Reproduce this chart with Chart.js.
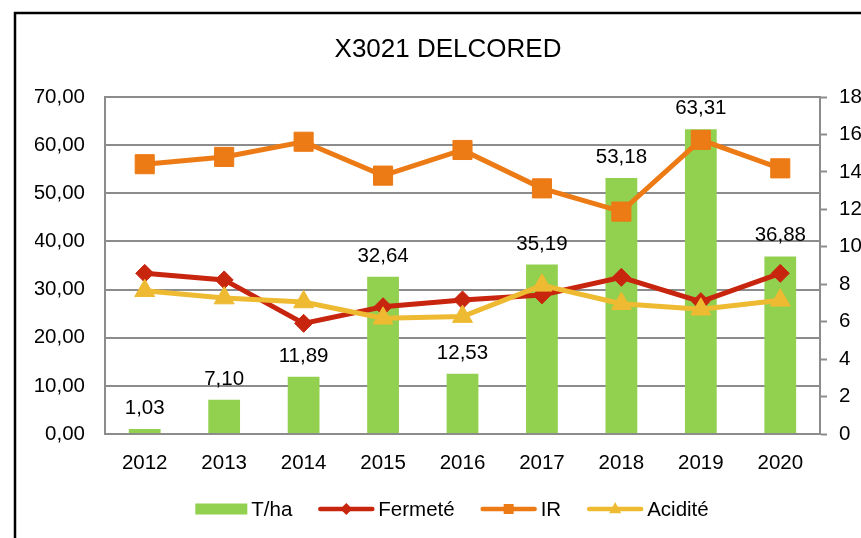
<!DOCTYPE html>
<html lang="fr">
<head>
<meta charset="UTF-8">
<title>X3021 DELCORED</title>
<script src="https://cdn.jsdelivr.net/npm/chart.js@4.4.1/dist/chart.umd.min.js"></script>
<style>
  html, body { margin: 0; padding: 0; background: #fff; }
  #wrap { position: relative; width: 861px; height: 538px; overflow: hidden; }
</style>
</head>
<body>
<div id="wrap"><canvas id="chart"></canvas></div>
<script>
//-----------------------------------------------------
// DONNÉES
//-----------------------------------------------------
const annees = ["2012", "2013", "2014", "2015", "2016", "2017", "2018", "2019", "2020"];
const tonnesHa = [1.03, 7.10, 11.89, 32.64, 12.53, 35.19, 53.18, 63.31, 36.88];
const fermete = [8.58, 8.23, 5.91, 6.80, 7.16, 7.43, 8.37, 7.07, 8.58];
const ir = [14.41, 14.80, 15.61, 13.80, 15.17, 13.12, 11.88, 15.71, 14.19];
const acidite = [7.65, 7.26, 7.05, 6.18, 6.27, 7.94, 6.96, 6.66, 7.14];

const ticksGauche = [0, 10, 20, 30, 40, 50, 60, 70];
const ticksDroite = [0, 2, 4, 6, 8, 10, 12, 14, 16, 18];

//-----------------------------------------------------
// STYLES
//-----------------------------------------------------
const VERT = "#92d050";
const ROUGE = "#c8250f";
const ORANGE = "#ec7a15";
const JAUNE = "#eeba31";
const GRIS = "#8c8c8c";
const POLICE = "'Liberation Sans', Arial, sans-serif";
const TAILLE = 20.5;

Chart.defaults.font.family = POLICE;
Chart.defaults.font.size = TAILLE;
Chart.defaults.color = "#000";

const virgule = (v, d) => Number(v).toFixed(d).replace(".", ",");

//-----------------------------------------------------
// cadre + fond
//-----------------------------------------------------
const cadrePlugin = {
  id: "cadre",
  beforeDraw(chart) {
    const ctx = chart.ctx;
    ctx.save();
    ctx.fillStyle = "#fff";
    ctx.fillRect(0, 0, chart.width, chart.height);
    ctx.strokeStyle = "#000";
    ctx.lineWidth = 2.5;
    ctx.strokeRect(15, 13, 900, 600);
    ctx.restore();
  }
};

//-----------------------------------------------------
// étiquettes des barres
//-----------------------------------------------------
const etiquettesPlugin = {
  id: "etiquettes",
  afterDatasetsDraw(chart) {
    const ctx = chart.ctx;
    const meta = chart.getDatasetMeta(0);
    ctx.save();
    ctx.font = `${TAILLE}px ${POLICE}`;
    ctx.fillStyle = "#000";
    ctx.textAlign = "center";
    ctx.textBaseline = "alphabetic";
    meta.data.forEach((bar, i) => {
      ctx.fillText(virgule(tonnesHa[i], 2), bar.x, bar.y - 15);
    });
    ctx.restore();
  }
};

//-----------------------------------------------------
// légende (ligne + marqueur comme Excel)
//-----------------------------------------------------
function marqueur(ctx, type, x, y, r) {
  ctx.beginPath();
  if (type === "rectRot") {
    ctx.moveTo(x - r, y); ctx.lineTo(x, y - r); ctx.lineTo(x + r, y); ctx.lineTo(x, y + r);
  } else if (type === "rect") {
    ctx.rect(x - r, y - r, 2 * r, 2 * r);
  } else {
    ctx.moveTo(x, y - r); ctx.lineTo(x + r * 0.87, y + r * 0.6); ctx.lineTo(x - r * 0.87, y + r * 0.6);
  }
  ctx.closePath();
  ctx.fill();
}

const legendeItems = [
  { label: "T/ha", type: "bar", color: VERT },
  { label: "Fermeté", type: "rectRot", color: ROUGE, r: 6 },
  { label: "IR", type: "rect", color: ORANGE, r: 5 },
  { label: "Acidité", type: "triangle", color: JAUNE, r: 7 },
];

const legendePlugin = {
  id: "legende",
  afterDraw(chart) {
    const ctx = chart.ctx;
    const y = 509;
    ctx.save();
    ctx.font = `${TAILLE}px ${POLICE}`;
    const items = legendeItems.map((it) => ({
      ...it,
      w: it.type === "bar" ? 52 : 56,
      tw: ctx.measureText(it.label).width
    }));
    const gap = 4, espace = 26;
    const total = items.reduce((s, it) => s + it.w + gap + it.tw, 0) + espace * (items.length - 1);
    let x = 452 - total / 2;
    items.forEach((it) => {
      ctx.fillStyle = it.color;
      ctx.strokeStyle = it.color;
      if (it.type === "bar") {
        ctx.fillRect(x, y - 5.5, it.w, 11);
      } else {
        ctx.lineWidth = 4.5;
        ctx.lineCap = "round";
        ctx.beginPath();
        ctx.moveTo(x + 2, y);
        ctx.lineTo(x + it.w - 2, y);
        ctx.stroke();
        marqueur(ctx, it.type, x + it.w / 2, y, it.r);
      }
      ctx.fillStyle = "#000";
      ctx.textAlign = "left";
      ctx.textBaseline = "alphabetic";
      ctx.fillText(it.label, x + it.w + gap, y + 7.4);
      x += it.w + gap + it.tw + espace;
    });
    ctx.restore();
  }
};

//-----------------------------------------------------
// graphique
//-----------------------------------------------------
const ligne = (label, data, color, style, radius, order) => ({
  type: "line",
  label,
  data,
  yAxisID: "y2",
  order,
  borderColor: color,
  backgroundColor: color,
  borderWidth: 5,
  tension: 0,
  pointStyle: style,
  pointRadius: radius,
  pointBorderWidth: 1,
  pointBackgroundColor: color,
  pointBorderColor: color
});

new Chart(document.getElementById("chart"), {
  data: {
    labels: annees,
    datasets: [
      {
        type: "bar",
        label: "T/ha",
        data: tonnesHa,
        yAxisID: "y",
        order: 4,
        backgroundColor: VERT,
        barPercentage: 0.5,
        categoryPercentage: 0.8
      },
      ligne("Fermeté", fermete, ROUGE, "rectRot", 9, 3),
      ligne("IR", ir, ORANGE, "rect", 13.5, 2),
      ligne("Acidité", acidite, JAUNE, "triangle", 11.5, 1)
    ]
  },
  options: {
    responsive: true,
    maintainAspectRatio: false,
    animation: false,
    layout: { padding: { left: 35, right: 0, top: 0, bottom: 0 } },
    plugins: {
      legend: { display: false },
      tooltip: { enabled: false },
      title: {
        display: true,
        text: "X3021 DELCORED",
        color: "#000",
        font: { size: 26, weight: "normal", family: POLICE },
        padding: { top: 34, bottom: 31.8 }
      }
    },
    scales: {
      x: {
        grid: { display: false },
        border: { display: true, color: GRIS, width: 2 },
        ticks: { padding: 9, maxRotation: 0, color: "#000" },
        afterFit: (s) => { s.height = 104; }
      },
      y: {
        position: "left",
        min: 0,
        max: 70,
        afterBuildTicks: (s) => { s.ticks = ticksGauche.map((v) => ({ value: v })); },
        ticks: { padding: 20, color: "#000", callback: (v) => virgule(v, 2) },
        grid: { color: GRIS, lineWidth: 2, drawTicks: false },
        border: { display: true, color: GRIS, width: 2 },
        afterFit: (s) => { s.width = 70; }
      },
      y2: {
        position: "right",
        min: 0,
        max: 18,
        afterBuildTicks: (s) => { s.ticks = ticksDroite.map((v) => ({ value: v })); },
        ticks: { padding: 12, color: "#000" },
        grid: { drawOnChartArea: false, drawTicks: true, tickLength: 7, tickWidth: 2, tickColor: GRIS },
        border: { display: true, color: GRIS, width: 2 },
        afterFit: (s) => { s.width = 41; }
      }
    }
  },
  plugins: [cadrePlugin, etiquettesPlugin, legendePlugin]
});
</script>
</body>
</html>
